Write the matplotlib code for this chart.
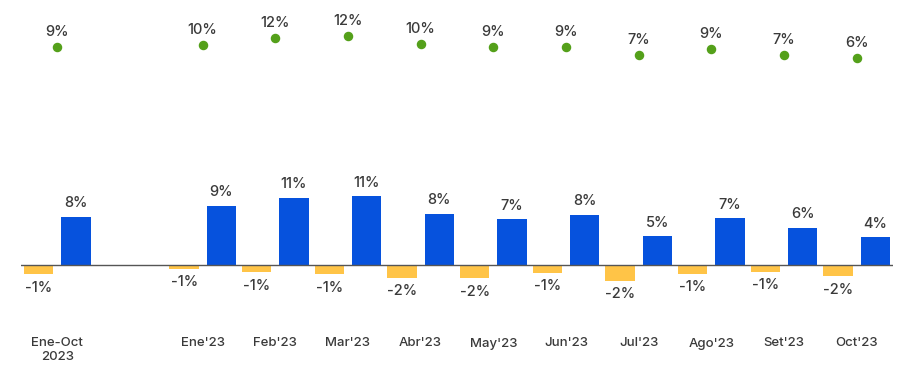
import numpy as np
import matplotlib.pyplot as plt

plt.rcParams['font.family'] = ['Inter', 'DejaVu Sans']
plt.rcParams['font.weight'] = 'medium'

# --- Data ---
categories = ["Ene-Oct\n2023", "", "Ene'23", "Feb'23", "Mar'23", "Abr'23", "May'23",
              "Jun'23", "Jul'23", "Ago'23", "Set'23", "Oct'23"]
neg_vals = [-1.4, np.nan, -0.54, -1.1, -1.43, -1.97, -2.1, -1.2, -2.44, -1.33, -1.06, -1.75]
pos_vals = [7.7, np.nan, 9.45, 10.7, 10.95, 8.2, 7.3, 8.0, 4.6, 7.46, 5.97, 4.44]
dot_vals = [8.92, np.nan, 9.61, 11.5, 12.0, 9.8, 9.08, 8.92, 6.88, 8.6, 6.8, 6.0]

blue = '#0652DD'
yellow = '#FFC447'
green = '#54A01A'
txt = '#3a3a3a'

x = np.arange(len(categories))
w = 0.406
off = 0.256

fig = plt.figure(figsize=(9.07, 3.67), dpi=100)
ax = fig.add_axes([21 / 907, 42 / 367, 872 / 907, 325 / 367])

ax.bar(x - off, neg_vals, w, color=yellow)
ax.bar(x + off, pos_vals, w, color=blue)
ax.axhline(0, color='#555555', linewidth=1)

for xi, n, p in zip(x, neg_vals, pos_vals):
    if np.isnan(p):
        continue
    ax.annotate(f"{round(p):.0f}%", (xi + off, p), xytext=(0, 13.5), textcoords='offset pixels',
                ha='center', va='center', fontsize=10.5, color=txt)
    ax.annotate(f"{round(n):.0f}%", (xi - off, n), xytext=(0, -13.5), textcoords='offset pixels',
                ha='center', va='center', fontsize=10.5, color=txt)

ax.set_xlim(-0.5, 11.5)
ax.set_ylim(-9.48, 42.1)

# green dots on their own scale
ax2 = ax.twinx()
ax2.scatter(x, dot_vals, s=34, color=green, zorder=3)
for xi, d in zip(x, dot_vals):
    if np.isnan(d):
        continue
    ax2.annotate(f"{round(d):.0f}%", (xi, d), xytext=(0, 15), textcoords='offset pixels',
                 ha='center', va='center', fontsize=10.5, color=txt)
ax2.set_ylim(-64.7, 21.47)

ax.set_xticks(x)
ax.set_xticklabels(categories, fontsize=9.5, color=txt, linespacing=1.15)
ax.tick_params(axis='x', length=0, pad=9)
ax.set_yticks([])
ax2.set_yticks([])
for a in (ax, ax2):
    for s in a.spines.values():
        s.set_visible(False)

fig.savefig('out.png', dpi=100)
